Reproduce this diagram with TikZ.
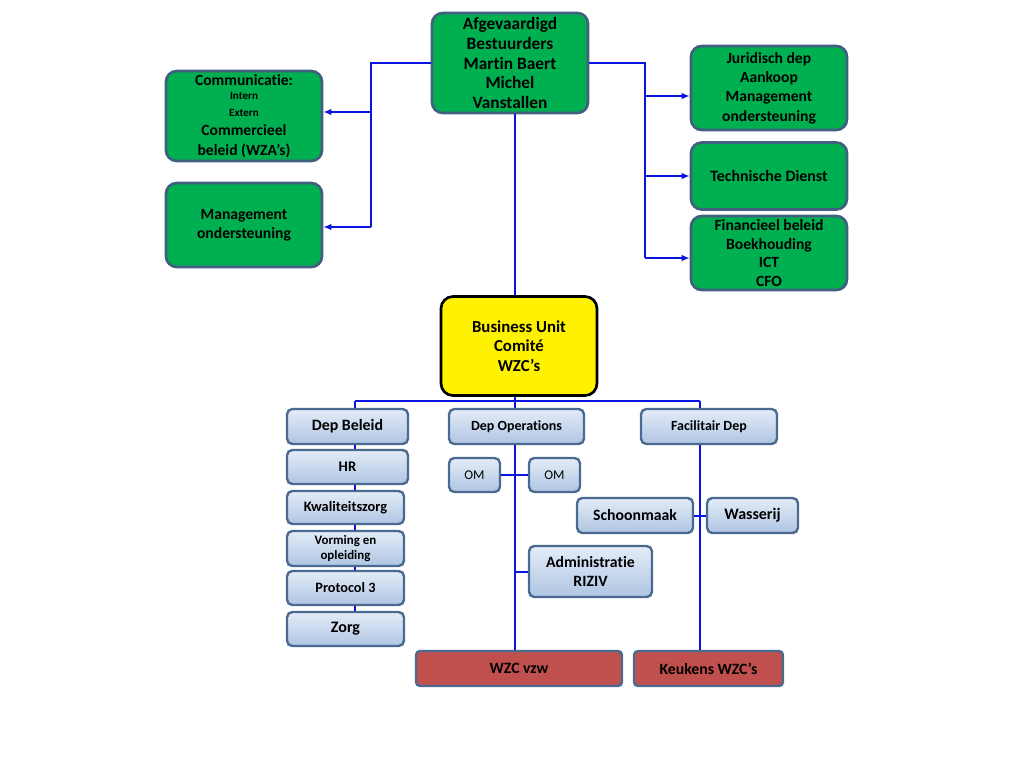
\documentclass[tikz,border=0pt]{standalone}
\usepackage{fontspec}
\setmainfont{Carlito}[Ligatures=NoCommon]
\usetikzlibrary{arrows.meta,calc}
\definecolor{gfill}{HTML}{00B050}
\definecolor{bord}{HTML}{41607F}
\definecolor{lbtop}{HTML}{E4ECF7}
\definecolor{lbbot}{HTML}{AFC5E3}
\definecolor{lbord}{HTML}{4A6A92}
\definecolor{rfill}{HTML}{C0504D}
\definecolor{conn}{HTML}{0A14E0}
\tikzset{
  sz/.style 2 args={minimum width=#1*0.75pt, minimum height=#2*0.75pt, inner sep=0pt},
  gbox/.style={draw=bord, line width=2pt, fill=gfill, rounded corners=8pt, align=center, font=\bfseries},
  ybox/.style={draw=black, line width=2pt, fill=yellow, rounded corners=9pt, align=center, font=\bfseries},
  lbox/.style={draw=lbord, line width=1.8pt, top color=lbtop, bottom color=lbbot, rounded corners=4pt, align=center, font=\bfseries},
  rbox/.style={draw=lbord, line width=1.8pt, fill=rfill, rounded corners=3pt, align=center, font=\bfseries},
  wire/.style={draw=conn, line width=1.5pt},
  arr/.style={wire, -{Latex[length=6pt,width=5pt]}},
}
\begin{document}
\begin{tikzpicture}[x=0.75pt,y=-0.75pt]
\useasboundingbox (0,0) rectangle (1024,768);
% top level
\node[gbox, sz={156}{100}, font=\bfseries\fontsize{13}{14.8}\selectfont] (top) at (510,63)
  {Afgevaardigd\\Bestuurders\\Martin Baert\\Michel\\Vanstallen};
\node[gbox, sz={156}{90}, font=\bfseries\fontsize{11.7}{15}\selectfont] (comm) at (244,116)
  {Communicatie:\\[-4pt]
   {\fontsize{8.3}{10}\selectfont Intern}\\[-2.5pt]
   {\fontsize{8.3}{10}\selectfont Extern}\\[-1pt]
   Commercieel\\beleid (WZA’s)};
\node[gbox, sz={156}{84}, font=\bfseries\fontsize{11.7}{14}\selectfont] (mgmt) at (244,225)
  {Management\\ondersteuning};
\node[gbox, sz={156}{84}, font=\bfseries\fontsize{11.7}{14.5}\selectfont] (jur) at (769,88)
  {Juridisch dep\\Aankoop\\Management\\ondersteuning};
\node[gbox, sz={156}{67}, font=\bfseries\fontsize{11.9}{14}\selectfont] (tech) at (769,176)
  {Technische Dienst};
\node[gbox, sz={156}{74}, font=\bfseries\fontsize{11.7}{14}\selectfont] (fin) at (769,253)
  {Financieel beleid\\Boekhouding\\ICT\\CFO};
\node[ybox, sz={156}{99}, font=\bfseries\fontsize{12.6}{14.8}\selectfont] (bu) at (519,346)
  {Business Unit\\Comité\\WZC’s};
% departments
\node[lbox, sz={121}{35}, font=\bfseries\fontsize{11.9}{13}\selectfont] (beleid) at (347.5,426.5) {Dep Beleid};
\node[lbox, sz={135}{35}, font=\bfseries\fontsize{10.5}{11}\selectfont] (ops) at (516.5,426.5) {Dep Operations};
\node[lbox, sz={136}{35}, font=\bfseries\fontsize{10.5}{11}\selectfont] (fac) at (709,426.5) {Facilitair Dep};
\node[lbox, sz={121}{34}, font=\bfseries\fontsize{11}{13}\selectfont] (hr) at (347.5,467) {HR};
\node[lbox, sz={117}{33}, font=\bfseries\fontsize{10.8}{11}\selectfont] (kwal) at (345.5,507.5) {Kwaliteitszorg};
\node[lbox, sz={117}{35}, font=\bfseries\fontsize{9.7}{11.5}\selectfont] (vorm) at (345.5,548.5) {Vorming en\\opleiding};
\node[lbox, sz={117}{34}, font=\bfseries\fontsize{10.7}{11}\selectfont] (prot) at (345.5,588) {Protocol 3};
\node[lbox, sz={117}{34}, font=\bfseries\fontsize{12}{13}\selectfont] (zorg) at (345.5,629) {Zorg};
\node[lbox, sz={51}{34}, font=\fontsize{10}{11}\selectfont] (om1) at (474.5,475) {OM};
\node[lbox, sz={51}{34}, font=\fontsize{10}{11}\selectfont] (om2) at (554.5,475) {OM};
\node[lbox, sz={116}{35}, font=\bfseries\fontsize{11.8}{13}\selectfont] (schoon) at (635,515.5) {Schoonmaak};
\node[lbox, sz={91}{35}, font=\bfseries\fontsize{12}{13}\selectfont] (wass) at (752.5,515.5) {Wasserij};
\node[lbox, sz={123}{51}, font=\bfseries\fontsize{11.8}{14}\selectfont] (admin) at (590.5,571.5) {Administratie\\RIZIV};
\node[rbox, sz={206}{35}, font=\bfseries\fontsize{11.8}{12}\selectfont] (wzc) at (519,668.5) {WZC vzw};
\node[rbox, sz={149}{35}, font=\bfseries\fontsize{11.8}{12}\selectfont] (keuk) at (708.5,668.5) {Keukens WZC’s};
% helper coordinates
\coordinate (sp) at (515,0);
\coordinate (fx) at (700,0);
\coordinate (bx) at (355,0);
\coordinate (L) at (371,63);
\coordinate (R) at (645,63);
\coordinate (hbar) at (0,401);
% top connectors
\draw[wire] (top.south -| sp) -- (bu.north -| sp);
\draw[wire] (top.west) -- (L) -- (L |- 0,227);
\draw[arr] (L |- 0,112) -- (comm.east |- 0,112);
\draw[arr] (L |- 0,227) -- (mgmt.east |- 0,227);
\draw[wire] (top.east) -- (R) -- (R |- 0,258);
\draw[arr] (R |- 0,96) -- (jur.west |- 0,96);
\draw[arr] (R |- 0,176) -- (tech.west);
\draw[arr] (R |- 0,258) -- (fin.west |- 0,258);
% bottom tree
\draw[wire] (bu.south -| sp) -- (hbar -| sp);
\draw[wire] (hbar -| bx) -- (hbar -| fx);
\draw[wire] (hbar -| bx) -- (beleid.north -| bx);
\draw[wire] (hbar -| sp) -- (ops.north -| sp);
\draw[wire] (hbar -| fx) -- (fac.north -| fx);
\draw[wire] (beleid.south -| bx) -- (hr.north -| bx);
\draw[wire] (hr.south -| bx) -- (kwal.north -| bx);
\draw[wire] (kwal.south -| bx) -- (vorm.north -| bx);
\draw[wire] (vorm.south -| bx) -- (prot.north -| bx);
\draw[wire] (prot.south -| bx) -- (zorg.north -| bx);
\draw[wire] (ops.south -| sp) -- (wzc.north -| sp);
\draw[wire] (om1.east) -- (om2.west);
\draw[wire] (admin.west -| sp) -- (admin.west);
\draw[wire] (fac.south -| fx) -- (keuk.north -| fx);
\draw[wire] (schoon.east) -- (wass.west);
\end{tikzpicture}
\end{document}
